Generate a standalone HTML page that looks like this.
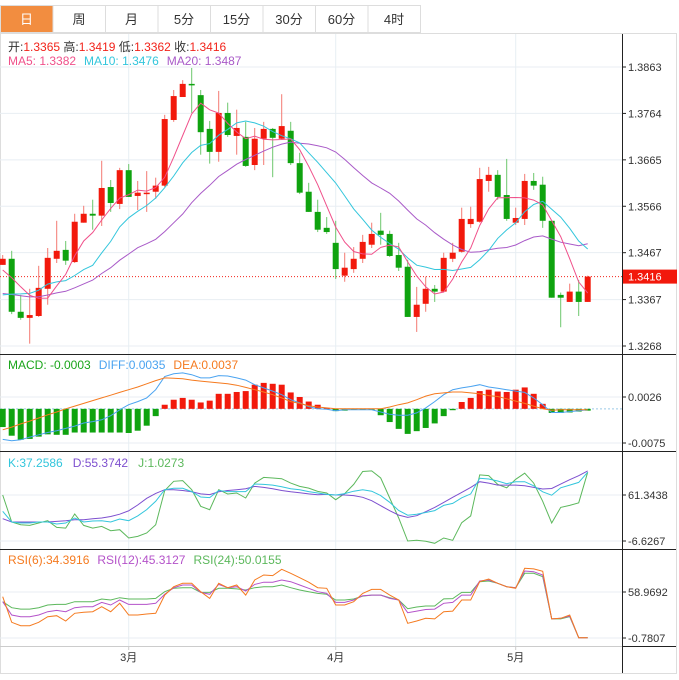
<!DOCTYPE html>
<html><head><meta charset="utf-8"><style>
html,body{margin:0;padding:0;background:#fff;}
body{width:679px;height:675px;overflow:hidden;font-family:"Liberation Sans","Noto Sans CJK SC",sans-serif;}
svg text{font-family:"Liberation Sans","Noto Sans CJK SC",sans-serif;}
</style></head><body>
<svg id="chart" width="679" height="675" viewBox="0 0 679 675" xmlns="http://www.w3.org/2000/svg">
<g id="tabs"></g>
<g id="grid"></g>
<g id="main"></g>
<g id="macd"></g>
<g id="kdj"></g>
<g id="rsi"></g>
<g id="axes"></g>
<g id="legends">
 <text x="8" y="51" font-size="12"><tspan fill="#333">开:</tspan><tspan fill="#f2231a">1.3365</tspan><tspan fill="#333">  高:</tspan><tspan fill="#f2231a">1.3419</tspan><tspan fill="#333">  低:</tspan><tspan fill="#f2231a">1.3362</tspan><tspan fill="#333">  收:</tspan><tspan fill="#f2231a">1.3416</tspan></text>
 <text x="8" y="65" font-size="12"><tspan fill="#f0508a">MA5: 1.3382</tspan><tspan fill="#33c6dc" dx="8">MA10: 1.3476</tspan><tspan fill="#a95ac8" dx="8">MA20: 1.3487</tspan></text>
 <text x="8" y="369" font-size="12"><tspan fill="#1aa51a">MACD: -0.0003</tspan><tspan fill="#4aa3f0" dx="8">DIFF:0.0035</tspan><tspan fill="#f57a1f" dx="8">DEA:0.0037</tspan></text>
 <text x="8" y="467" font-size="12"><tspan fill="#33c6dc">K:37.2586</tspan><tspan fill="#7d4fcf" dx="10">D:55.3742</tspan><tspan fill="#5cb85c" dx="10">J:1.0273</tspan></text>
 <text x="8" y="564" font-size="12"><tspan fill="#f57a1f">RSI(6):34.3916</tspan><tspan fill="#b452c9" dx="8">RSI(12):45.3127</tspan><tspan fill="#5cb85c" dx="8">RSI(24):50.0155</tspan></text>
</g>
</svg>
<script>
const tabLabels=["日","周","月","5分","15分","30分","60分","4时"];
const opens=[1.3441,1.3454,1.3341,1.3328,1.3332,1.3390,1.3454,1.3473,1.3447,1.3531,1.3550,1.3546,1.3607,1.3571,1.3643,1.3588,1.3592,1.3597,1.3610,1.3750,1.3799,1.3827,1.3803,1.3731,1.3682,1.3765,1.3716,1.3714,1.3654,1.3710,1.3731,1.3710,1.3727,1.3658,1.3597,1.3554,1.3520,1.3488,1.3418,1.3432,1.3454,1.3484,1.3514,1.3507,1.3462,1.3437,1.3330,1.3358,1.3390,1.3384,1.3454,1.3469,1.3528,1.3533,1.3620,1.3633,1.3590,1.3531,1.3539,1.3620,1.3612,1.3535,1.3377,1.3362,1.3384,1.3362];
const highs=[1.3462,1.3471,1.3377,1.3390,1.3439,1.3477,1.3535,1.3492,1.3550,1.3567,1.3580,1.3663,1.3622,1.3648,1.3656,1.3620,1.3641,1.3627,1.3761,1.3814,1.3835,1.3861,1.3814,1.3748,1.3812,1.3787,1.3772,1.3746,1.3733,1.3746,1.3733,1.3805,1.3746,1.3680,1.3616,1.3580,1.3543,1.3535,1.3467,1.3479,1.3505,1.3531,1.3552,1.3514,1.3488,1.3452,1.3394,1.3416,1.3398,1.3467,1.3488,1.3563,1.3565,1.3648,1.3650,1.3643,1.3667,1.3563,1.3635,1.3637,1.3629,1.3535,1.3382,1.3401,1.3409,1.3418];
const lows=[1.3441,1.3336,1.3324,1.3273,1.3330,1.3356,1.3445,1.3441,1.3445,1.3531,1.3516,1.3524,1.3554,1.3560,1.3586,1.3558,1.3554,1.3582,1.3607,1.3746,1.3799,1.3765,1.3676,1.3657,1.3661,1.3714,1.3676,1.3650,1.3643,1.3654,1.3628,1.3708,1.3654,1.3592,1.3554,1.3511,1.3507,1.3411,1.3405,1.3424,1.3445,1.3477,1.3484,1.3458,1.3428,1.3330,1.3298,1.3341,1.3362,1.3382,1.3447,1.3467,1.3520,1.3531,1.3597,1.3580,1.3535,1.3526,1.3526,1.3601,1.3520,1.3371,1.3308,1.3362,1.3332,1.3362];
const closes=[1.3454,1.3341,1.3328,1.3334,1.3392,1.3456,1.3471,1.3450,1.3533,1.3550,1.3546,1.3605,1.3573,1.3643,1.3586,1.3595,1.3595,1.3610,1.3752,1.3801,1.3827,1.3825,1.3724,1.3682,1.3765,1.3718,1.3733,1.3652,1.3710,1.3731,1.3712,1.3737,1.3658,1.3595,1.3554,1.3516,1.3511,1.3432,1.3435,1.3454,1.3490,1.3507,1.3505,1.3460,1.3435,1.3330,1.3356,1.3390,1.3384,1.3456,1.3467,1.3539,1.3539,1.3624,1.3633,1.3586,1.3539,1.3541,1.3620,1.3610,1.3535,1.3371,1.3371,1.3384,1.3362,1.3416];
const priorCloses=[1.3383,1.3383,1.3383,1.3383,1.3383,1.3383,1.3383,1.3383,1.3383,1.3383,1.3324,1.3324,1.3324,1.3324,1.3324,1.3424,1.3424,1.3424,1.3424];
const priceTicks=[1.3863,1.3764,1.3665,1.3566,1.3467,1.3367,1.3268];
const lastPrice=1.3416;
const monthIdx=[14,37,57];
const monthLabels=["3月","4月","5月"];

const macdHist=[-0.0040,-0.0059,-0.0068,-0.0066,-0.0061,-0.0056,-0.0057,-0.0057,-0.0052,-0.0052,-0.0052,-0.0052,-0.0052,-0.0052,-0.0053,-0.0048,-0.0037,-0.0016,0.0009,0.0020,0.0024,0.0020,0.0014,0.0018,0.0033,0.0033,0.0037,0.0039,0.0053,0.0057,0.0055,0.0053,0.0036,0.0026,0.0016,0.0009,0.0002,-0.0005,-0.0004,-0.0001,-0.0001,-0.0002,-0.0014,-0.0029,-0.0044,-0.0055,-0.0049,-0.0042,-0.0032,-0.0016,-0.0003,0.0015,0.0024,0.0039,0.0042,0.0038,0.0037,0.0042,0.0047,0.0033,0.0011,-0.0009,-0.0009,-0.0008,-0.0006,-0.0004];
const diffVals=[-0.0067,-0.0070,-0.0068,-0.0062,-0.0057,-0.0052,-0.0048,-0.0043,-0.0038,-0.0031,-0.0028,-0.0024,-0.0015,-0.0002,0.0009,0.0016,0.0024,0.0042,0.0071,0.0077,0.0079,0.0075,0.0068,0.0068,0.0073,0.0072,0.0068,0.0063,0.0053,0.0046,0.0039,0.0031,0.0020,0.0013,0.0005,0.0000,-0.0001,-0.0004,-0.0002,-0.0002,-0.0002,-0.0002,-0.0007,-0.0012,-0.0014,-0.0014,-0.0009,0.0002,0.0016,0.0031,0.0042,0.0046,0.0049,0.0053,0.0048,0.0045,0.0042,0.0039,0.0036,0.0024,0.0009,-0.0008,-0.0008,-0.0006,-0.0004,-0.0002];
const deaVals=[-0.0046,-0.0040,-0.0033,-0.0027,-0.0020,-0.0013,-0.0007,0.0000,0.0006,0.0012,0.0018,0.0024,0.0030,0.0036,0.0042,0.0048,0.0055,0.0062,0.0068,0.0067,0.0066,0.0063,0.0061,0.0059,0.0057,0.0055,0.0052,0.0047,0.0042,0.0037,0.0031,0.0024,0.0016,0.0012,0.0007,0.0004,0.0002,0.0000,0,0,0,0,0.0000,0.0004,0.0009,0.0013,0.0020,0.0028,0.0033,0.0035,0.0037,0.0037,0.0035,0.0033,0.0029,0.0027,0.0022,0.0017,0.0012,0.0006,0.0000,-0.0003,-0.0002,-0.0002,-0.0002,-0.0002];
const macdTicks=[0.0026,-0.0075];
const kVals=[37.2,21.4,20,20,21.4,21.4,18.5,20,27.4,21.4,22.9,23.4,21.4,25.9,23.4,30.4,39.7,52.1,69.2,71.2,71.2,66.3,58.4,57.5,68,66.3,66.3,66.3,77.6,77,76,73.6,70.7,69.2,66.3,64.3,62.3,61.3,63.4,67,69.2,67,60.4,50.5,38.5,31.5,33,35.5,38.3,46,49,57.2,63,86,85,82,78,81,81,75,66,61,72,76,80,95];
const dVals=[26.3,21.4,21.4,21.4,21.4,21.4,22.4,23.4,24.9,24.9,26.3,27.4,29.6,33,38,46.6,56.4,63.7,69.2,69.2,68,66,63,62,66,68,69.2,70.7,74,72.6,70.7,68,66,64.8,63,61.8,62.3,61.3,61.3,60.4,57.9,52.9,45.5,38.1,31.7,28.3,30.7,36.6,43,50.4,57.9,65.2,72.6,81,79,76,76,76,75,72.6,70.2,71,77.5,84,89.8,97];
const jVals=[61.3,21.4,17.4,16.4,20,23.4,13.5,12.5,33.2,16.4,12.5,15,8.6,10,-2.2,0.2,5.2,17.4,67.8,81.6,82.6,69.2,44.6,39.6,69.2,62.8,64.3,56.9,79,87.4,86.4,85.4,79,74,71.6,66.6,64.3,54.4,63.4,77,96,97,86.4,56.9,27.4,-6.6,-5.6,-7,-10,-2.2,-5.6,20.4,30.4,91,90,77,72,84.5,93.5,79,52,20,43,46,49.8,95];
const kdjTicks=[61.3438,-6.6267];
const rsi6=[52.9,19.6,15.2,15.2,19.6,26.9,28.2,21.3,31.3,32.6,33.4,39.9,33.4,44.3,29.1,29.1,30.4,31.3,55,65.9,70.3,70.3,59.4,50.7,70.3,64.6,68,55,74.6,81,80.3,88.4,83.2,77.6,71.7,64.6,63.8,42.1,42.1,46.4,57.2,62.4,62.4,55,48.6,18.3,21.3,24.8,24,33.4,34.2,48.6,48.6,72.4,75.9,70.3,65.9,63.8,89.7,89,85.8,24,24.8,29.1,-0.4,-0.4];
const rsi12=[46.4,29.1,26.9,26.9,29.1,33.4,35.1,33.4,38.6,39.9,39.9,45.5,42.1,48.6,42.9,42.9,42.9,44.3,56,64.6,68,68,58.5,56,68.9,64.6,65.9,60.3,68.9,71.7,71.7,74.6,72.4,68,63.8,59.4,57.2,45.5,45.5,48.6,54.1,55,55,50.7,48.6,32.1,34.2,36.3,36.7,44.3,45.5,55,55,73.3,74.6,70.3,65.9,64.6,86.3,85.4,81,24,24.8,27.8,-0.4,-0.4];
const rsi24=[46.4,38.6,36.7,36.7,38.6,42.1,42.9,42.9,46.4,46.4,46.4,49.9,48.6,51.6,49.9,49.9,49.9,50.7,59.4,63.8,64.6,64.6,58.5,58.5,63.8,63.8,63,61.6,64.6,65.9,65.9,68,64.6,61.6,59.4,57.2,56,48.6,48.6,49.9,53.7,55,55,51.6,48.6,37.3,39.5,40.8,40.8,50,50.4,58.5,58.5,72.4,73.3,70.3,65.9,64.6,83.3,83.3,79,24,24,26.9,-0.4,-0.4];
const rsiTicks=[58.9692,-0.7807];

const NS="http://www.w3.org/2000/svg";
function mk(tag,attrs,parent){const e=document.createElementNS(NS,tag);for(const k in attrs)e.setAttribute(k,attrs[k]);parent.appendChild(e);return e;}
const RED="#f2190c",GREEN="#0fa30f";
const PX0=2.7,STEP=9,RIGHT=622;
function cx(i){return PX0+STEP*i;}
function yP(p){return 67+(1.3863-p)/(1.3863-1.3268)*279;}
function scaleFrom(ticks,y1,y2){return v=>y1+(ticks[0]-v)/(ticks[0]-ticks[1])*(y2-y1);}
const yM=scaleFrom(macdTicks,397,443);
const yK=scaleFrom(kdjTicks,495,541);
const yR=scaleFrom(rsiTicks,592,638);

// tabs
const tabsG=document.getElementById('tabs');
tabLabels.forEach((t,i)=>{
 const x=i*52.5;
 const r=mk('rect',{x:x+0.5,y:5.5,width:52.5,height:27,fill:i===0?'#f28d40':'#fff',stroke:'#ddd'},tabsG);
 
 
 const tx=mk('text',{x:x+26.5,y:24,'text-anchor':'middle','font-size':13,fill:i===0?'#fff':'#333'},tabsG);
 tx.textContent=t;
 
 
});

// frame and grid
const grid=document.getElementById('grid');
mk('rect',{x:0.5,y:33.5,width:676,height:640,fill:'none',stroke:'#ddd'},grid);
priceTicks.forEach(p=>mk('line',{x1:0,x2:RIGHT,y1:yP(p),y2:yP(p),stroke:'#e8eef3'},grid));
monthIdx.forEach(i=>mk('line',{x1:cx(i),x2:cx(i),y1:34,y2:646,stroke:'#e8eef3'},grid));
[397,443,495,541,592,638].forEach(y=>mk('line',{x1:0,x2:RIGHT,y1:y,y2:y,stroke:'#e8eef3'},grid));

// main candles
const main=document.getElementById('main');
mk('line',{x1:0,x2:RIGHT,y1:yP(lastPrice),y2:yP(lastPrice),stroke:'#f2231a','stroke-dasharray':'1,2','stroke-width':1},main);
closes.forEach((c,i)=>{
 const o=opens[i],up=c>=o,col=up?RED:GREEN,x=cx(i);
 const w=mk('line',{x1:x,x2:x,y1:yP(highs[i]),y2:yP(lows[i]),stroke:up?'#f37a72':'#6cc76c','stroke-width':1},main);
 
 
 const t=yP(Math.max(o,c)),b=yP(Math.min(o,c));
 const r=mk('rect',{x:x-3,y:t,width:6,height:Math.max(1.5,b-t),fill:col},main);
 
 
});
const all=priorCloses.concat(closes),P=priorCloses.length;
function ma(n){return closes.map((_,i)=>{let s=0,k=0;for(let j=P+i;j>P+i-n&&j>=0;j--){s+=all[j];k++;}return s/k;});}
function poly(vals,yf,col,parent,name){const pts=vals.map((v,i)=>cx(i).toFixed(1)+','+yf(v).toFixed(1)).join(' ');const pl=mk('polyline',{points:pts,fill:'none',stroke:col,'stroke-width':1},parent);return pl;}
poly(ma(20),yP,'#a95ac8',main,'ma20-line');
poly(ma(10),yP,'#33c6dc',main,'ma10-line');
poly(ma(5),yP,'#f0508a',main,'ma5-line');

// MACD
const macdG=document.getElementById('macd');
mk('line',{x1:0,x2:RIGHT,y1:yM(0),y2:yM(0),stroke:'#9ac9e8','stroke-dasharray':'2,2'},macdG);
macdHist.forEach((h,i)=>{const y0=yM(0),y1=yM(h);const r=mk('rect',{x:cx(i)-3,y:Math.min(y0,y1),width:6,height:Math.max(1,Math.abs(y1-y0)),fill:h>=0?RED:GREEN},macdG);});
poly(diffVals,yM,'#4aa3f0',macdG,'diff-line');
poly(deaVals,yM,'#f57a1f',macdG,'dea-line');

// KDJ
const kdjG=document.getElementById('kdj');
poly(jVals,yK,'#5cb85c',kdjG,'j-line');
poly(dVals,yK,'#7d4fcf',kdjG,'d-line');
poly(kVals,yK,'#33c6dc',kdjG,'k-line');

// RSI
const rsiG=document.getElementById('rsi');
poly(rsi24,yR,'#5cb85c',rsiG,'rsi24-line');
poly(rsi12,yR,'#b452c9',rsiG,'rsi12-line');
poly(rsi6,yR,'#f57a1f',rsiG,'rsi6-line');

// axes
const ax=document.getElementById('axes');
mk('line',{x1:RIGHT+0.5,x2:RIGHT+0.5,y1:34,y2:673,stroke:'#222'},ax);
[354,451,549].forEach(y=>mk('line',{x1:0,x2:676,y1:y+0.5,y2:y+0.5,stroke:'#222'},ax));
mk('line',{x1:0,x2:RIGHT,y1:646.5,y2:646.5,stroke:'#ccc'},ax);
mk('line',{x1:RIGHT,x2:676,y1:646.5,y2:646.5,stroke:'#222'},ax);
function tick(y,label,name){mk('line',{x1:RIGHT,x2:RIGHT+4,y1:y,y2:y,stroke:'#222'},ax);const t=mk('text',{x:RIGHT+6,y:y+4,'font-size':11,fill:'#333'},ax);t.textContent=label;}
priceTicks.forEach(p=>tick(yP(p),p.toFixed(4),'price-tick-label'));
macdTicks.forEach(v=>tick(yM(v),v.toFixed(4),'macd-tick-label'));
kdjTicks.forEach(v=>tick(yK(v),v.toFixed(4),'kdj-tick-label'));
rsiTicks.forEach(v=>tick(yR(v),v.toFixed(4),'rsi-tick-label'));
const yl=yP(lastPrice);
const pb=mk('rect',{x:RIGHT+1,y:yl-7,width:54,height:14,fill:RED},ax);


const pt=mk('text',{x:RIGHT+6,y:yl+4,'font-size':11,fill:'#fff'},ax);pt.textContent=lastPrice.toFixed(4);
monthIdx.forEach((i,k)=>{mk('line',{x1:cx(i),x2:cx(i),y1:646,y2:650,stroke:'#ccc'},ax);const t=mk('text',{x:cx(i),y:661,'text-anchor':'middle','font-size':11,fill:'#333'},ax);t.textContent=monthLabels[k];});
</script>
</body></html>
